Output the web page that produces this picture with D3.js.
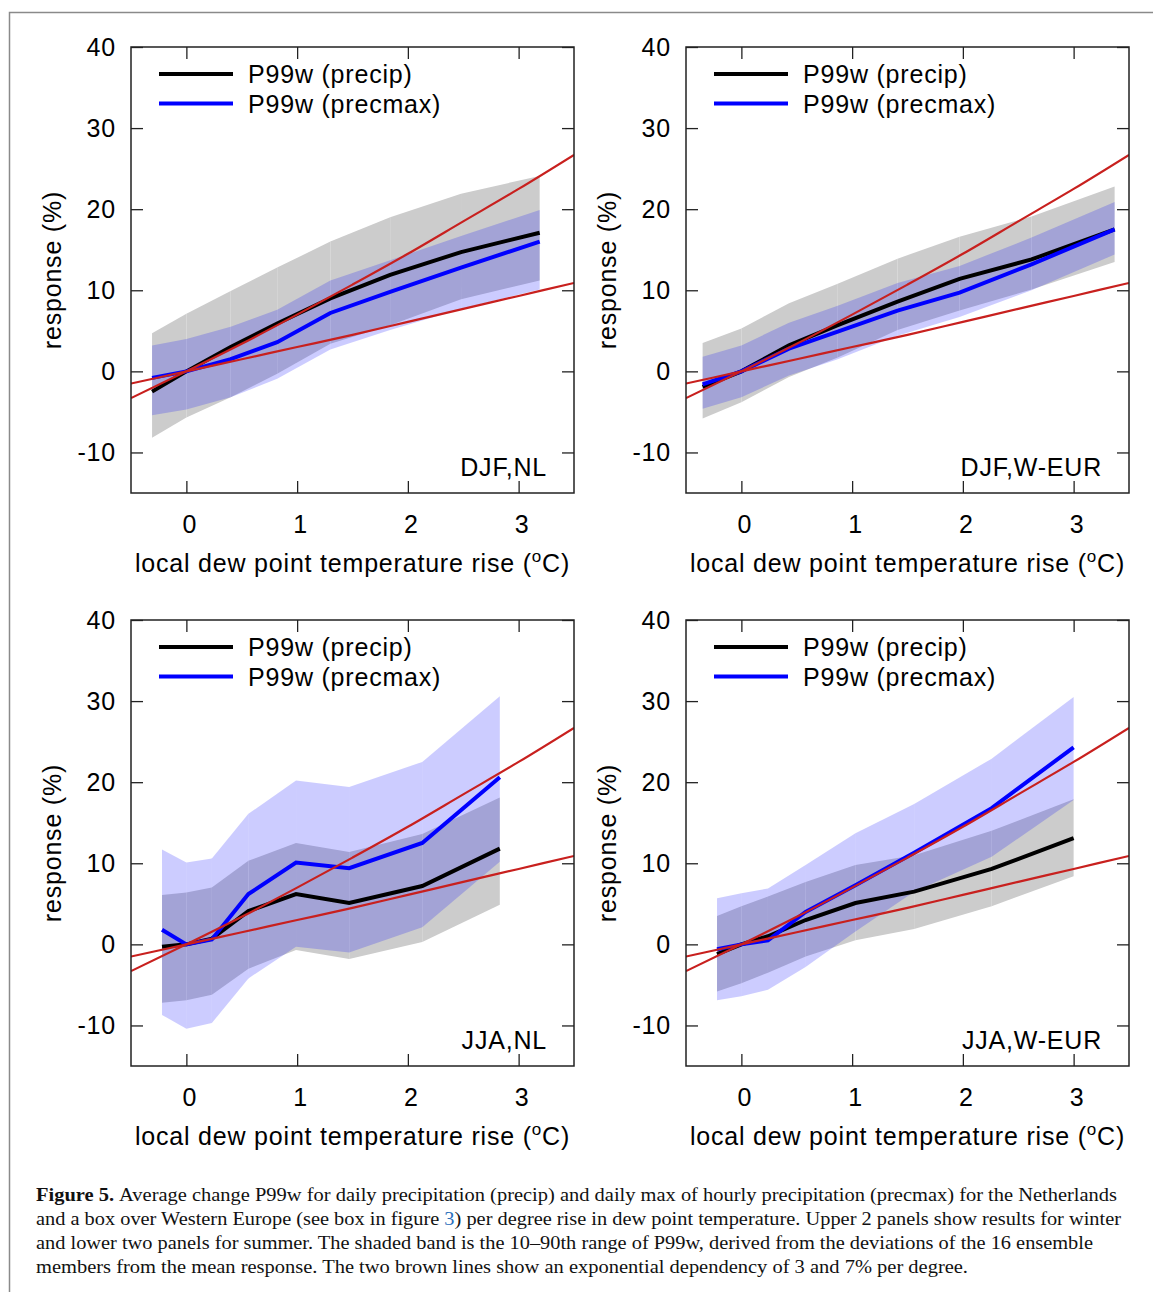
<!DOCTYPE html>
<html>
<head>
<meta charset="utf-8">
<script src="https://cdn.jsdelivr.net/npm/d3@7"></script>
<style>
  body { margin: 0; background: #fff; }
  svg { display: block; }
</style>
</head>
<body>
<script>
// axis ticks
var xTicks = [0, 1, 2, 3];
var yTicks = [-10, 0, 10, 20, 30, 40];

// brown reference lines, 3 and 7 % per degree
var refX = [-0.5, 0, 0.5, 1, 1.5, 2, 2.5, 3, 3.5];
var ref3 = [-1.5, 0, 1.5, 3.0, 4.5, 6.1, 7.7, 9.3, 10.9];
var ref7 = [-3.3, 0, 3.4, 7.0, 10.7, 14.5, 18.5, 22.5, 26.7];

// DJF, NL
var djfNlX          = [-0.31, 0, 0.40, 0.82, 1.30, 1.84, 2.48, 3.19];
var djfNlPrecip     = [-2.5, 0, 3.0, 5.9, 9.0, 11.9, 14.7, 17.1];
var djfNlPrecmax    = [-0.8, 0, 1.5, 3.6, 7.2, 9.8, 12.8, 16.0];
var djfNlPrecipLo   = [-8.2, -5.7, -3.2, -0.3, 3.4, 5.7, 8.9, 11.2];
var djfNlPrecipHi   = [4.7, 7.1, 9.9, 12.8, 16.0, 19.0, 21.9, 24.1];
var djfNlPrecmaxLo  = [-5.4, -4.7, -3.2, -0.9, 2.7, 5.1, 7.7, 10.1];
var djfNlPrecmaxHi  = [3.2, 4.0, 5.5, 7.6, 11.2, 13.7, 16.7, 19.9];

// DJF, W-EUR
var djfEuX          = [-0.35, 0, 0.43, 0.87, 1.41, 1.97, 2.62, 3.37];
var djfEuPrecip     = [-1.9, 0, 3.2, 5.7, 8.6, 11.4, 13.8, 17.5];
var djfEuPrecmax    = [-1.6, 0, 2.8, 4.9, 7.5, 9.7, 13.2, 17.5];
var djfEuPrecipLo   = [-5.8, -3.8, -0.7, 1.7, 5.1, 7.5, 10.1, 13.5];
var djfEuPrecipHi   = [3.5, 5.3, 8.4, 10.8, 13.9, 16.6, 19.1, 22.8];
var djfEuPrecmaxLo  = [-4.6, -3.2, -0.5, 1.5, 4.4, 6.7, 10.0, 14.4];
var djfEuPrecmaxHi  = [1.8, 3.2, 6.0, 8.1, 10.9, 13.0, 16.5, 20.9];

// JJA, NL
var jjaNlX          = [-0.22, 0, 0.23, 0.56, 0.99, 1.47, 2.13, 2.83];
var jjaNlPrecip     = [-0.3, 0, 0.7, 4.1, 6.2, 5.1, 7.2, 11.8];
var jjaNlPrecmax    = [1.8, 0, 0.6, 6.2, 10.1, 9.4, 12.5, 20.6];
var jjaNlPrecipLo   = [-7.2, -6.9, -6.2, -3.0, -0.7, -1.8, 0.3, 4.9];
var jjaNlPrecipHi   = [6.1, 6.4, 7.0, 10.3, 12.5, 11.4, 13.6, 18.1];
var jjaNlPrecmaxLo  = [-8.7, -10.4, -9.7, -4.2, -0.3, -1.0, 2.1, 10.2];
var jjaNlPrecmaxHi  = [11.7, 10.1, 10.6, 16.1, 20.2, 19.4, 22.5, 30.6];

// JJA, W-EUR
var jjaEuX          = [-0.22, 0, 0.24, 0.58, 1.03, 1.56, 2.26, 3.0];
var jjaEuPrecip     = [-1.2, 0, 1.0, 3.0, 5.1, 6.5, 9.3, 13.1];
var jjaEuPrecmax    = [-0.6, 0, 0.5, 4.0, 7.3, 11.3, 16.8, 24.3];
var jjaEuPrecipLo   = [-5.8, -4.8, -3.5, -1.5, 0.5, 1.9, 4.7, 8.4];
var jjaEuPrecipHi   = [3.5, 4.7, 5.9, 7.7, 9.8, 11.0, 14.0, 17.9];
var jjaEuPrecmaxLo  = [-6.9, -6.4, -5.6, -2.8, 1.6, 6.5, 10.8, 17.8];
var jjaEuPrecmaxHi  = [5.7, 6.3, 6.9, 9.8, 13.7, 17.3, 22.9, 30.5];

var legendLabels = ["P99w (precip)", "P99w (precmax)"];

var captionLines = [
  "Average change P99w for daily precipitation (precip) and daily max of hourly precipitation (precmax) for the Netherlands",
  "and a box over Western Europe (see box in figure ", ") per degree rise in dew point temperature. Upper 2 panels show results for winter",
  "and lower two panels for summer. The shaded band is the 10\u201390th range of P99w, derived from the deviations of the 16 ensemble",
  "members from the mean response. The two brown lines show an exponential dependency of 3 and 7% per degree."
];

var panels = [
  {label: "DJF,NL", col: 0, row: 0, x: djfNlX, precip: djfNlPrecip, precmax: djfNlPrecmax,
   pLo: djfNlPrecipLo, pHi: djfNlPrecipHi, mLo: djfNlPrecmaxLo, mHi: djfNlPrecmaxHi},
  {label: "DJF,W-EUR", col: 1, row: 0, x: djfEuX, precip: djfEuPrecip, precmax: djfEuPrecmax,
   pLo: djfEuPrecipLo, pHi: djfEuPrecipHi, mLo: djfEuPrecmaxLo, mHi: djfEuPrecmaxHi},
  {label: "JJA,NL", col: 0, row: 1, x: jjaNlX, precip: jjaNlPrecip, precmax: jjaNlPrecmax,
   pLo: jjaNlPrecipLo, pHi: jjaNlPrecipHi, mLo: jjaNlPrecmaxLo, mHi: jjaNlPrecmaxHi},
  {label: "JJA,W-EUR", col: 1, row: 1, x: jjaEuX, precip: jjaEuPrecip, precmax: jjaEuPrecmax,
   pLo: jjaEuPrecipLo, pHi: jjaEuPrecipHi, mLo: jjaEuPrecmaxLo, mHi: jjaEuPrecmaxHi}
];

var width = 1153,
    height = 1292;

var plotW = 443, plotH = 446;
var lefts = [131, 686], tops = [47, 620];

var sans = "'Liberation Sans', Arial, sans-serif";
var fs = 25, ls = 0.8;
var red = "#c8201e";

var svg = d3.select("body")
    .append("svg")
    .attr("width", width)
    .attr("height", height);

// page border
svg.append("path")
    .attr("d", "M9.5," + height + "V12.5H" + width)
    .attr("fill", "none")
    .attr("stroke", "#8a8a8a")
    .attr("stroke-width", 1.5);

var x = d3.scaleLinear().domain([-0.5, 3.5]).range([0, plotW]);
var y = d3.scaleLinear().domain([-15, 40]).range([plotH, 0]);

function plainNum(d) { return String(d); }   // hyphen minus like the original

panels.forEach(function(p, k) {
  var g = svg.append("g")
      .attr("transform", "translate(" + lefts[p.col] + "," + tops[p.row] + ")");

  g.append("clipPath").attr("id", "clip" + k)
    .append("rect").attr("width", plotW).attr("height", plotH);

  var plot = g.append("g").attr("clip-path", "url(#clip" + k + ")");

  // bands, drawn segment by segment
  function band(lo, hi, fill) {
    var pts = p.x.map(function(v, i) { return {x: v, lo: lo[i], hi: hi[i]}; });
    var area = d3.area()
        .x(function(d) { return x(d.x); })
        .y0(function(d) { return y(d.lo); })
        .y1(function(d) { return y(d.hi); });
    for (var i = 0; i < pts.length - 1; i++) {
      plot.append("path")
          .attr("d", area(pts.slice(i, i + 2)))
          .attr("fill", fill);
    }
  }
  band(p.pLo, p.pHi, "#cccccc");
  band(p.mLo, p.mHi, "rgba(0,0,255,0.2)");

  var line = d3.line()
      .x(function(d) { return x(d[0]); })
      .y(function(d) { return y(d[1]); });

  plot.append("path")
      .attr("d", line(d3.zip(p.x, p.precip)))
      .attr("fill", "none").attr("stroke", "#000").attr("stroke-width", 4);
  plot.append("path")
      .attr("d", line(d3.zip(p.x, p.precmax)))
      .attr("fill", "none").attr("stroke", "#0000ff").attr("stroke-width", 4);

  var curve = d3.line()
      .curve(d3.curveMonotoneX)
      .x(function(d) { return x(d[0]); })
      .y(function(d) { return y(d[1]); });
  [ref3, ref7].forEach(function(r) {
    plot.append("path")
        .attr("d", curve(d3.zip(refX, r)))
        .attr("fill", "none").attr("stroke", red).attr("stroke-width", 2.2);
  });

  // axes with inward ticks
  g.append("g").attr("class", "xb").attr("transform", "translate(0," + plotH + ")")
      .call(d3.axisBottom(x).tickValues(xTicks).tickSize(-12).tickPadding(22).tickFormat(plainNum));
  g.append("g")
      .call(d3.axisLeft(y).tickValues(yTicks).tickSize(-12).tickPadding(15).tickFormat(plainNum));
  g.append("g")
      .call(d3.axisTop(x).tickValues(xTicks).tickSize(-12).tickFormat(""));
  g.append("g").attr("transform", "translate(" + plotW + ",0)")
      .call(d3.axisRight(y).tickValues(yTicks).tickSize(-12).tickFormat(""));

  g.selectAll(".domain").remove();
  g.selectAll(".tick line").attr("stroke", "#222").attr("stroke-width", 1.3);
  g.selectAll(".tick text")
      .attr("font-family", sans).attr("font-size", fs).attr("letter-spacing", ls).attr("fill", "#000");
  g.selectAll(".xb .tick text").attr("dx", 3);

  g.append("rect")
      .attr("width", plotW).attr("height", plotH)
      .attr("fill", "none").attr("stroke", "#222").attr("stroke-width", 1.5);

  // legend
  var legend = g.append("g").attr("font-family", sans).attr("font-size", fs).attr("letter-spacing", ls);
  ["#000", "#0000ff"].forEach(function(c, i) {
    legend.append("line")
        .attr("x1", 28).attr("x2", 102)
        .attr("y1", 27 + i * 29.5).attr("y2", 27 + i * 29.5)
        .attr("stroke", c).attr("stroke-width", 4);
    legend.append("text")
        .attr("x", 117).attr("y", 36 + i * 29.5)
        .text(legendLabels[i]);
  });

  g.append("text")
      .attr("x", 416).attr("y", 429)
      .attr("text-anchor", "end")
      .attr("font-family", sans).attr("font-size", fs).attr("letter-spacing", ls)
      .text(p.label);

  // axis titles
  g.append("text")
      .attr("transform", "translate(" + (61 - lefts[0]) + "," + (plotH / 2) + ") rotate(-90)")
      .attr("text-anchor", "middle")
      .attr("font-family", sans).attr("font-size", fs).attr("letter-spacing", ls)
      .text("response (%)");

  var xt = g.append("text")
      .attr("x", plotW / 2).attr("y", plotH + 79)
      .attr("text-anchor", "middle")
      .attr("font-family", sans).attr("font-size", fs).attr("letter-spacing", ls);
  xt.append("tspan").text("local dew point temperature rise (");
  xt.append("tspan").attr("font-size", 17).attr("dy", -10).text("o");
  xt.append("tspan").attr("dy", 10).text("C)");
});

// caption
var cap = svg.append("g")
    .attr("font-family", "'Liberation Serif', 'DejaVu Serif', serif")
    .attr("font-size", 18)
    .attr("fill", "#111");

var t1 = cap.append("text").attr("x", 36).attr("y", 1201)
    .attr("textLength", 1081).attr("lengthAdjust", "spacingAndGlyphs");
t1.append("tspan").attr("font-weight", "bold").text("Figure 5. ");
t1.append("tspan").text(captionLines[0]);

var t2 = cap.append("text").attr("x", 36).attr("y", 1225)
    .attr("textLength", 1085).attr("lengthAdjust", "spacingAndGlyphs");
t2.append("tspan").text(captionLines[1]);
t2.append("tspan").attr("fill", "#2a6ebb").text("3");
t2.append("tspan").text(captionLines[2]);

cap.append("text").attr("x", 36).attr("y", 1249)
    .attr("textLength", 1057).attr("lengthAdjust", "spacingAndGlyphs")
    .text(captionLines[3]);

cap.append("text").attr("x", 36).attr("y", 1273)
    .attr("textLength", 932).attr("lengthAdjust", "spacingAndGlyphs")
    .text(captionLines[4]);
</script>
</body>
</html>
